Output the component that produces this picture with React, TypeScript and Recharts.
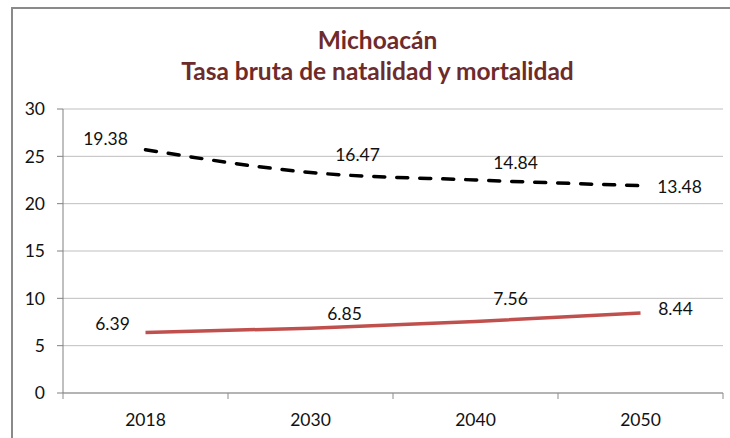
import React from 'react';
import { ComposedChart, Line, XAxis, YAxis, CartesianGrid, LabelList } from 'recharts';

const years = ['2018', '2030', '2040', '2050'];
const natalidad = [25.7, 23.3, 22.5, 21.9];
const natalidadLabels = ['19.38', '16.47', '14.84', '13.48'];
const mortalidad = [6.39, 6.85, 7.56, 8.44];
const mortalidadLabels = ['6.39', '6.85', '7.56', '8.44'];
const yTicks = [0, 5, 10, 15, 20, 25, 30];
const titleLines = ['Michoacán', 'Tasa bruta de natalidad y mortalidad'];

const data = years.map((year, i) => ({ year, natalidad: natalidad[i], mortalidad: mortalidad[i] }));

const W = 730;
const H = 438;
const PLOT_LEFT = 63;
const PLOT_RIGHT = 723;
const PLOT_TOP = 109;
const PLOT_BOTTOM = 393;
const BAND = (PLOT_RIGHT - PLOT_LEFT) / years.length;
const FONT = 'Lato, "Open Sans", sans-serif';
const FS = 17.5;

const natOffsets = [[-40, -11], [47, -18], [40, -18], [39, 1]];
const morOffsets = [[-33, -9], [34, -15], [35, -23], [35, -5]];

const makeLabel = (labels: string[], offsets: number[][]) => (p: any) => {
  const i = p.index;
  return (
    <text
      x={p.x + offsets[i][0]}
      y={p.y + offsets[i][1]}
      textAnchor="middle"
      dominantBaseline="central"
      fontFamily={FONT}
      fontSize={FS}
      fill="#111"
    >
      {labels[i]}
    </text>
  );
};

const XTick = (props: any) => {
  const { x, payload, index } = props;
  const left = x - BAND / 2;
  const right = x + BAND / 2;
  return (
    <g>
      <line x1={left} y1={PLOT_BOTTOM} x2={left} y2={PLOT_BOTTOM + 6} stroke="#8c8c8c" />
      {index === years.length - 1 && (
        <line x1={right} y1={PLOT_BOTTOM} x2={right} y2={PLOT_BOTTOM + 6} stroke="#8c8c8c" />
      )}
      <text
        x={x}
        y={PLOT_BOTTOM + 26}
        textAnchor="middle"
        dominantBaseline="central"
        fontFamily={FONT}
        fontSize={FS}
        fill="#111"
      >
        {payload.value}
      </text>
    </g>
  );
};

export default function App() {
  const xAxisHeight = 30;
  return (
    <div style={{ position: 'absolute', left: 0, top: 0, width: W, height: H, background: '#fff', overflow: 'hidden' }}>
      <div
        style={{
          position: 'absolute',
          left: 11,
          top: 7,
          width: W,
          height: H,
          borderLeft: '2px solid #8a8a8a',
          borderTop: '2px solid #8a8a8a',
        }}
      />
      <div
        style={{
          position: 'absolute',
          left: 0,
          top: 24,
          width: 755,
          textAlign: 'center',
          fontFamily: FONT,
          fontWeight: 'bold',
          fontSize: 24.5,
          lineHeight: '31px',
          color: '#6E2B2B',
        }}
      >
        {titleLines.map((t) => (
          <div key={t}>{t}</div>
        ))}
      </div>
      <div style={{ position: 'absolute', left: 0, top: 0 }}>
        <ComposedChart
          width={W}
          height={H}
          data={data}
          margin={{ top: PLOT_TOP, right: W - PLOT_RIGHT, bottom: H - PLOT_BOTTOM - xAxisHeight, left: 0 }}
        >
          <CartesianGrid vertical={false} stroke="#bfbfbf" strokeWidth={1} />
          <XAxis
            dataKey="year"
            scale="band"
            height={xAxisHeight}
            axisLine={{ stroke: '#a6a6a6', strokeWidth: 1.5 }}
            tickLine={false}
            tick={<XTick />}
            interval={0}
          />
          <YAxis
            width={PLOT_LEFT}
            domain={[0, 30]}
            ticks={yTicks}
            axisLine={{ stroke: '#808080' }}
            tickLine={{ stroke: '#808080' }}
            tickSize={6}
            tickMargin={12}
            tick={{ fontFamily: FONT, fontSize: FS, fill: '#111' }}
          />
          <Line
            dataKey="natalidad"
            type="monotone"
            stroke="#000"
            strokeWidth={3.5}
            strokeDasharray="11 12"
            strokeLinecap="round"
            dot={false}
            isAnimationActive={false}
          >
            <LabelList dataKey="natalidad" content={makeLabel(natalidadLabels, natOffsets)} />
          </Line>
          <Line
            dataKey="mortalidad"
            type="monotone"
            stroke="#C0504D"
            strokeWidth={3.5}
            dot={false}
            isAnimationActive={false}
          >
            <LabelList dataKey="mortalidad" content={makeLabel(mortalidadLabels, morOffsets)} />
          </Line>
        </ComposedChart>
      </div>
    </div>
  );
}
